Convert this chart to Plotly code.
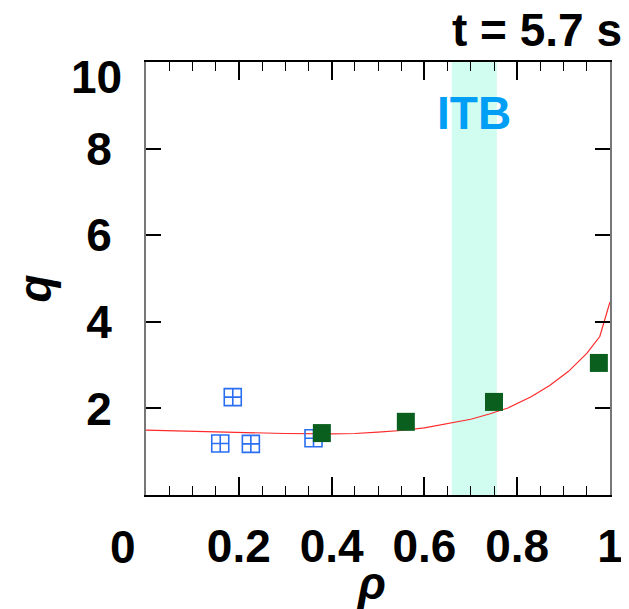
import plotly.graph_objects as go

# ---- data ----
rho_line = [0, 0.1, 0.2, 0.3, 0.4, 0.45, 0.5, 0.55, 0.6, 0.65, 0.7, 0.74, 0.78, 0.83, 0.87, 0.91, 0.95, 0.978, 1.0]
q_line = [1.50, 1.47, 1.44, 1.42, 1.41, 1.42, 1.45, 1.49, 1.55, 1.65, 1.75, 1.87, 2.01, 2.27, 2.53, 2.85, 3.27, 3.66, 4.46]

rho_open = [0.160, 0.187, 0.226, 0.361]
q_open = [1.19, 2.26, 1.18, 1.31]

rho_fill = [0.379, 0.560, 0.750, 0.976]
q_fill = [1.43, 1.69, 2.15, 3.05]

itb_range = [0.659, 0.756]

x_tickvals = [0.2, 0.4, 0.6, 0.8, 1.0]
x_ticktext = ["0.2", "0.4", "0.6", "0.8", "1"]
y_tickvals = [2, 4, 6, 8, 10]
y_ticktext = ["2", "4", "6", "8", ""]

FONT = "Liberation Sans, Arial, Helvetica, sans-serif"
FS = 46

fig = go.Figure()

fig.add_vrect(x0=itb_range[0], x1=itb_range[1], fillcolor="#d0fdf0", line_width=0, layer="below")

fig.add_trace(go.Scatter(x=rho_line, y=q_line, mode="lines",
                         line=dict(color="#ff2a2a", width=1.2),
                         showlegend=False, hoverinfo="skip"))
fig.add_trace(go.Scatter(x=rho_open, y=q_open, mode="markers",
                         marker=dict(symbol="square-cross-open", size=17, color="#2a6ef2",
                                     line=dict(width=1.6, color="#2a6ef2")),
                         showlegend=False))
fig.add_trace(go.Scatter(x=rho_fill, y=q_fill, mode="markers",
                         marker=dict(symbol="square", size=18, color="#0a5e1e",
                                     line=dict(width=0)),
                         showlegend=False))

fig.update_xaxes(range=[0, 1], tickmode="array", tickvals=x_tickvals, ticktext=x_ticktext,
                 ticks="inside", ticklen=18, tickwidth=1.5, tickcolor="black",
                 minor=dict(dtick=0.05, tick0=0, ticks="inside", ticklen=9, tickwidth=1.2, tickcolor="black"),
                 showline=True, linecolor="black", linewidth=2, mirror="ticks",
                 showgrid=False, zeroline=False,
                 tickfont=dict(family=FONT, size=FS, color="black", weight="bold"),
                 ticklabelstandoff=10)
fig.update_yaxes(range=[0, 10], tickmode="array", tickvals=y_tickvals, ticktext=y_ticktext,
                 ticks="inside", ticklen=15, tickwidth=1.5, tickcolor="black",
                 showline=True, linecolor="#777777", linewidth=2, mirror="ticks",
                 showgrid=False, zeroline=False,
                 tickfont=dict(family=FONT, size=FS, color="black", weight="bold"),
                 ticklabelstandoff=23)

ann_font = dict(family=FONT, size=FS, color="black", weight="bold")
fig.add_annotation(x=0, y=0, xref="x", yref="y", text="0", showarrow=False,
                   font=ann_font, xanchor="center", yanchor="middle", xshift=-23, yshift=-52)
fig.add_annotation(x=0, y=10, xref="x", yref="y", text="10", showarrow=False,
                   font=ann_font, xanchor="right", yanchor="middle", xshift=-22, yshift=-15)
fig.add_annotation(x=0.0, y=0.5, xref="paper", yref="paper", text="<i>q</i>", showarrow=False,
                   font=ann_font, textangle=-90, xanchor="center", yanchor="middle",
                   xshift=-112, yshift=-10)
fig.add_annotation(x=0.485, y=0, xref="paper", yref="paper", text="<i>ρ</i>", showarrow=False,
                   font=ann_font, xanchor="center", yanchor="middle", yshift=-88)
fig.add_annotation(x=1, y=1, xref="paper", yref="paper", text="t = 5.7 s", showarrow=False,
                   font=ann_font, xanchor="right", yanchor="middle", xshift=14, yshift=32)
fig.add_annotation(x=(itb_range[0] + itb_range[1]) / 2, y=8.82, xref="x", yref="y", text="ITB",
                   showarrow=False, xanchor="center", yanchor="middle",
                   font=dict(family=FONT, size=FS, color="#009ff5", weight="bold"))

# page has an 8px body margin; size the figure so the plot area lands where the reference has it
fig.update_layout(width=621, height=601,
                  margin=dict(l=138, r=19, t=54, b=114, autoexpand=False),
                  plot_bgcolor="white", paper_bgcolor="white")

fig.write_html("out.html")
